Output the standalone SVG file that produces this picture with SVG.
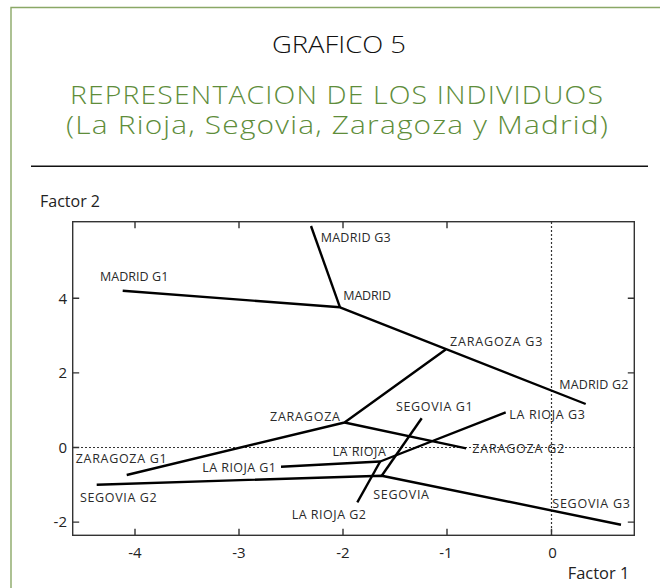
<svg xmlns="http://www.w3.org/2000/svg" width="660" height="588" viewBox="0 0 660 588">
<style>
.frame{fill:none;stroke:#8aa866;stroke-width:1.4}
.title{font-family:"Open Sans","Noto Sans",sans-serif;font-size:24px;fill:#111;font-weight:300}
.green{font-family:"Open Sans","Noto Sans",sans-serif;font-size:25px;fill:#5e8d3a;font-weight:300;letter-spacing:1px}
.axis{fill:none;stroke:#333;stroke-width:1.4}
.tick{stroke:#333;stroke-width:1.4}
.dot{stroke:#333;stroke-width:1.2;stroke-dasharray:2 2;fill:none}
.tl{font-family:"Open Sans","Noto Sans",sans-serif;font-size:15px;fill:#222}
.ax{font-family:"Open Sans","Noto Sans",sans-serif;font-size:16px;fill:#222}
.lab{font-family:"Open Sans","Noto Sans",sans-serif;font-size:12.5px;fill:#2a2a2a}
.seg{stroke:#000;stroke-width:2.4;fill:none;stroke-linecap:butt;stroke-linejoin:round}
</style>
<rect x="0" y="0" width="660" height="588" fill="#fff"/>
<path class="frame" d="M11,600 V7.5 H670"/>
<g id="title">
<text class="title" x="272" y="52.7" textLength="134" lengthAdjust="spacingAndGlyphs">GRAFICO 5</text>
<text class="green" x="70" y="104.3" textLength="534" lengthAdjust="spacingAndGlyphs">REPRESENTACION DE LOS INDIVIDUOS</text>
<text class="green" x="66" y="134" textLength="543" lengthAdjust="spacingAndGlyphs">(La Rioja, Segovia, Zaragoza y Madrid)</text>
</g>
<line x1="31" y1="166.3" x2="648" y2="166.3" stroke="#111" stroke-width="1.4"/>
<g id="axes">
<line class="dot" x1="73" y1="447.5" x2="634" y2="447.5"/>
<line class="dot" x1="551.5" y1="222" x2="551.5" y2="535"/>
<rect class="axis" x="72.7" y="221.7" width="561.6" height="313.6"/>
<path class="tick" d="M135,221.7v6.5M239,221.7v6.5M343,221.7v6.5M447,221.7v6.5M135,535.3v-6.5M239,535.3v-6.5M343,535.3v-6.5M447,535.3v-6.5M551.5,535.3v-6.5M72.7,298.3h6.5M72.7,372.9h6.5M72.7,447.5h6.5M72.7,522.1h6.5M634.3,298.3h-6.5M634.3,372.9h-6.5M634.3,522.1h-6.5"/>
<text class="tl" x="67" y="303.6" text-anchor="end">4</text>
<text class="tl" x="67" y="378.2" text-anchor="end">2</text>
<text class="tl" x="67" y="452.8" text-anchor="end">0</text>
<text class="tl" x="67" y="527.4" text-anchor="end">-2</text>
<text class="tl" x="135" y="558.3" text-anchor="middle">-4</text>
<text class="tl" x="239" y="558.3" text-anchor="middle">-3</text>
<text class="tl" x="343" y="558.3" text-anchor="middle">-2</text>
<text class="tl" x="446" y="558.3" text-anchor="middle">-1</text>
<text class="tl" x="552.5" y="558.3" text-anchor="middle">0</text>
<text class="ax" x="40" y="206.7" textLength="60" lengthAdjust="spacingAndGlyphs">Factor 2</text>
<text class="ax" x="567.7" y="579" textLength="61.6" lengthAdjust="spacingAndGlyphs">Factor 1</text>
</g>
<g id="connectors">
<polyline class="seg" points="122.7,290.7 340,307.3 585.7,404"/>
<line class="seg" x1="311" y1="226" x2="340" y2="307.3"/>
<polyline class="seg" points="126.7,475 344.5,422.5 445.7,349.5"/>
<line class="seg" x1="344.5" y1="422.5" x2="466.2" y2="448.3"/>
<polyline class="seg" points="281,466.7 380.2,461.5 505.7,412.3"/>
<line class="seg" x1="380.2" y1="461.5" x2="357.3" y2="502.3"/>
<polyline class="seg" points="96.7,484.7 381.7,475.7 621,524.7"/>
<line class="seg" x1="381.7" y1="475.7" x2="421.7" y2="418.3"/>
</g>
<g id="madrid"><text class="lab" x="343.3" y="300" textLength="47.7" lengthAdjust="spacing">MADRID</text></g>
<g id="madrid-g1"><text class="lab" x="100" y="280.7" textLength="68.3" lengthAdjust="spacing">MADRID G1</text></g>
<g id="madrid-g2"><text class="lab" x="559.3" y="388.5" textLength="69" lengthAdjust="spacing">MADRID G2</text></g>
<g id="madrid-g3"><text class="lab" x="320.7" y="242.3" textLength="70" lengthAdjust="spacing">MADRID G3</text></g>
<g id="zaragoza"><text class="lab" x="270" y="421" textLength="70" lengthAdjust="spacing">ZARAGOZA</text></g>
<g id="zaragoza-g1"><text class="lab" x="75.7" y="463.3" textLength="91" lengthAdjust="spacing">ZARAGOZA G1</text></g>
<g id="zaragoza-g2"><text class="lab" x="472.3" y="452.7" textLength="92" lengthAdjust="spacing">ZARAGOZA G2</text></g>
<g id="zaragoza-g3"><text class="lab" x="450" y="346" textLength="92.3" lengthAdjust="spacing">ZARAGOZA G3</text></g>
<g id="larioja"><text class="lab" x="332.5" y="456" textLength="53.3" lengthAdjust="spacing">LA RIOJA</text></g>
<g id="larioja-g1"><text class="lab" x="202.3" y="472" textLength="73.7" lengthAdjust="spacing">LA RIOJA G1</text></g>
<g id="larioja-g2"><text class="lab" x="291.7" y="519" textLength="74.3" lengthAdjust="spacing">LA RIOJA G2</text></g>
<g id="larioja-g3"><text class="lab" x="509.3" y="419" textLength="75.7" lengthAdjust="spacing">LA RIOJA G3</text></g>
<g id="segovia"><text class="lab" x="373.3" y="499" textLength="55.7" lengthAdjust="spacing">SEGOVIA</text></g>
<g id="segovia-g1"><text class="lab" x="396" y="410.7" textLength="76.7" lengthAdjust="spacing">SEGOVIA G1</text></g>
<g id="segovia-g2"><text class="lab" x="80" y="502" textLength="76.7" lengthAdjust="spacing">SEGOVIA G2</text></g>
<g id="segovia-g3"><text class="lab" x="552.3" y="508.3" textLength="77.7" lengthAdjust="spacing">SEGOVIA G3</text></g>
</svg>
